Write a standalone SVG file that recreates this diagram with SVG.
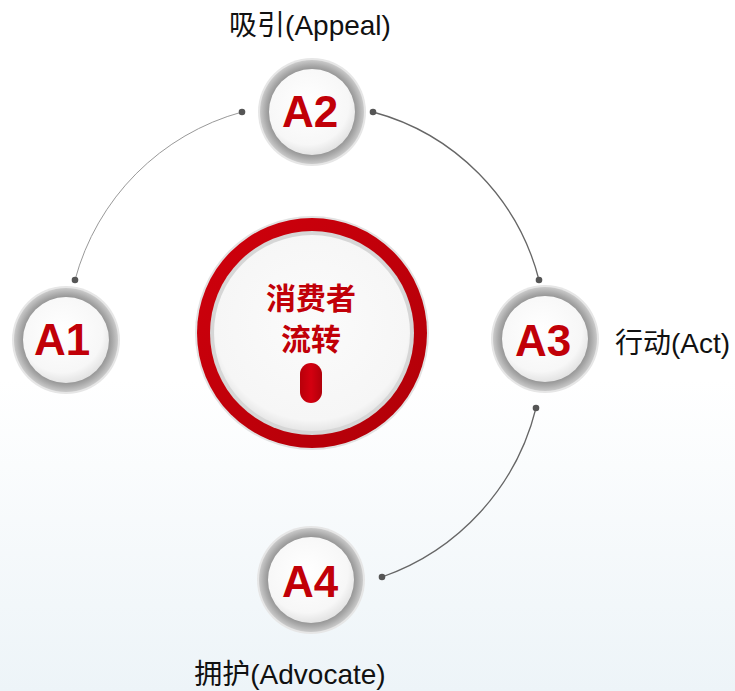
<svg xmlns="http://www.w3.org/2000/svg" width="735" height="691" viewBox="0 0 735 691">
<defs>
<linearGradient id="bg" x1="0" y1="0" x2="0" y2="1">
<stop offset="0" stop-color="#ffffff"/>
<stop offset="0.55" stop-color="#ffffff"/>
<stop offset="1" stop-color="#edf4f8"/>
</linearGradient>
<radialGradient id="ring" cx="0.5" cy="0.5" r="0.5">
<stop offset="0.80" stop-color="#909090"/>
<stop offset="0.90" stop-color="#ababab"/>
<stop offset="1" stop-color="#cacaca"/>
</radialGradient>
<radialGradient id="disk" cx="0.45" cy="0.4" r="0.6">
<stop offset="0" stop-color="#ffffff"/>
<stop offset="0.8" stop-color="#f7f7f7"/>
<stop offset="1" stop-color="#e4e4e4"/>
</radialGradient>
<linearGradient id="red" x1="0" y1="0" x2="1" y2="1">
<stop offset="0" stop-color="#d0000c"/>
<stop offset="1" stop-color="#b00008"/>
</linearGradient>
<linearGradient id="pill" x1="0" y1="0" x2="1" y2="0">
<stop offset="0" stop-color="#b8000a"/>
<stop offset="0.5" stop-color="#d40010"/>
<stop offset="1" stop-color="#b0000a"/>
</linearGradient>
<radialGradient id="cdisk" cx="0.5" cy="0.45" r="0.55">
<stop offset="0" stop-color="#fbfbfb"/>
<stop offset="0.9" stop-color="#f6f6f6"/>
<stop offset="1" stop-color="#e6e6e6"/>
</radialGradient>
</defs>
<style>
.halo{fill:#e6e6e6}
.ring{fill:url(#ring)}
.disk{fill:url(#disk)}
.lbl{font-family:"Liberation Sans","Noto Sans CJK SC",sans-serif;font-weight:bold;font-size:44px;fill:#c10008;text-anchor:middle}
.cap{font-family:"Liberation Sans","Noto Sans CJK SC",sans-serif;font-size:28px;fill:#111}
.ctr{font-family:"Noto Sans CJK SC",sans-serif;font-weight:bold;font-size:30px;fill:#c10008;text-anchor:middle}
.arc{fill:none;stroke:#666;stroke-width:1.3}
.arc.light{stroke:#999;stroke-width:1}
.dot{fill:#555}
</style>
<rect width="735" height="691" fill="url(#bg)"/>
<g id="connectors">
<path class="arc light" d="M242 112 A238 238 0 0 0 75 280"/>
<path class="arc" d="M373 112 A234 234 0 0 1 539 280"/>
<path class="arc" d="M536 408 A240 240 0 0 1 382 577"/>
<circle class="dot" cx="242" cy="112" r="3.3"/>
<circle class="dot" cx="75" cy="280" r="3.3"/>
<circle class="dot" cx="373" cy="112" r="3.3"/>
<circle class="dot" cx="539" cy="280" r="3.3"/>
<circle class="dot" cx="536" cy="408" r="3.3"/>
<circle class="dot" cx="382" cy="577" r="3.3"/>
</g>
<g id="center">
<circle cx="312" cy="333" r="117" fill="#e2e2e2"/>
<circle cx="312" cy="333" r="115" fill="url(#red)"/>
<circle cx="312" cy="333" r="102" fill="#d6d6d6"/>
<circle cx="312" cy="333" r="98" fill="url(#cdisk)"/>
<text class="ctr" x="311" y="309">消费者</text>
<text class="ctr" x="311" y="350">流转</text>
<rect x="300" y="363" width="22" height="40" rx="11" fill="url(#pill)"/>
</g>
<g id="A2">
<circle class="halo" cx="312" cy="112" r="54"/>
<circle class="ring" cx="312" cy="112" r="52"/>
<circle class="disk" cx="312" cy="112" r="43"/>
<text class="lbl" x="310" y="127">A2</text>
<text class="cap" x="310" y="35" text-anchor="middle">吸引(Appeal)</text>
</g>
<g id="A1">
<circle class="halo" cx="66" cy="340" r="54"/>
<circle class="ring" cx="66" cy="340" r="52"/>
<circle class="disk" cx="66" cy="340" r="43"/>
<text class="lbl" x="62" y="355">A1</text>
</g>
<g id="A3">
<circle class="halo" cx="545" cy="339" r="54"/>
<circle class="ring" cx="545" cy="339" r="52"/>
<circle class="disk" cx="545" cy="339" r="43"/>
<text class="lbl" x="543" y="356">A3</text>
<text class="cap" x="615" y="353">行动(Act)</text>
</g>
<g id="A4">
<circle class="halo" cx="311" cy="580" r="54"/>
<circle class="ring" cx="311" cy="580" r="52"/>
<circle class="disk" cx="311" cy="580" r="43"/>
<text class="lbl" x="310" y="597">A4</text>
<text class="cap" x="290" y="684" text-anchor="middle">拥护(Advocate)</text>
</g>
</svg>
